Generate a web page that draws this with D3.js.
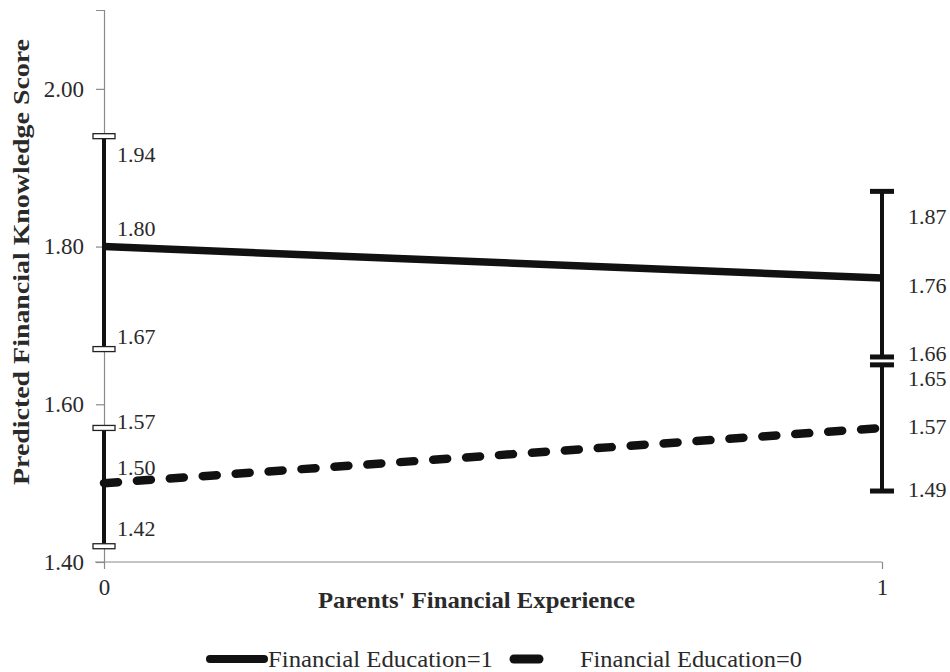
<!DOCTYPE html>
<html>
<head>
<meta charset="utf-8">
<script src="https://cdn.jsdelivr.net/npm/d3@7"></script>
<style>
  html, body { margin: 0; padding: 0; background: #fff; }
  svg { display: block; }
</style>
</head>
<body>
<svg id="chart" width="950" height="672"></svg>
<script>
// ---- data ----
const xCategories = [0, 1];
const seriesNames = ["Financial Education=1", "Financial Education=0"];
const eduOneMean = [1.80, 1.76];
const eduOneLow  = [1.67, 1.66];
const eduOneHigh = [1.94, 1.87];
const eduZeroMean = [1.50, 1.57];
const eduZeroLow  = [1.42, 1.49];
const eduZeroHigh = [1.57, 1.65];
const yTicks = [1.40, 1.60, 1.80, 2.00];
const xTicks = [0, 1];

// label nudges (vertical offsets in px) for value labels
const labelNudge = {
  one:  { mean: [-18, 7],  low: [-13, -4], high: [18, 25] },
  zero: { mean: [-16, -2], low: [-18, -2], high: [-7, 13] }
};

const FONT = "Liberation Serif";
const TXT = "#2a2a2a";
const svg = d3.select("#chart");
const x = d3.scaleLinear().domain([0, 1]).range([104, 882]);
const y = d3.scaleLinear().domain([1.40, 2.10]).range([562, 10]);

// axes
const yAxis = d3.axisLeft(y).tickValues(yTicks).tickFormat(d3.format(".2f")).tickSize(8).tickPadding(12);
const gy = svg.append("g").attr("transform", `translate(${x(0)},0)`).call(yAxis);
gy.select(".domain").attr("stroke", "#8a8a8a").attr("stroke-width", 1.2);
gy.selectAll(".tick line").attr("stroke", "#8a8a8a").attr("stroke-width", 1.2);
gy.selectAll(".tick text").style("font-size", "23px").style("font-family", FONT).style("fill", TXT);

const xAxis = d3.axisBottom(x).tickValues(xTicks).tickFormat(d3.format("d")).tickSize(7).tickPadding(10);
const gx = svg.append("g").attr("transform", `translate(0,${y(1.40)})`).call(xAxis);
gx.select(".domain").attr("stroke", "#8a8a8a").attr("stroke-width", 1.2).attr("d", `M${x(0) - 9},0H${x(1)}`);
gx.selectAll(".tick line").attr("stroke", "#8a8a8a").attr("stroke-width", 1.2);
gx.selectAll(".tick text").style("font-size", "23px").style("font-family", FONT).style("fill", TXT);

// axis titles
svg.append("text")
  .attr("transform", `translate(29,${262}) rotate(-90)`)
  .attr("text-anchor", "middle")
  .style("font-family", FONT).style("font-size", "23px").style("font-weight", "bold").style("fill", TXT)
  .attr("textLength", 446).attr("lengthAdjust", "spacingAndGlyphs")
  .text("Predicted Financial Knowledge Score");

svg.append("text")
  .attr("x", 318).attr("y", 608)
  .style("font-family", FONT).style("font-size", "23px").style("font-weight", "bold").style("fill", TXT)
  .attr("textLength", 317).attr("lengthAdjust", "spacingAndGlyphs")
  .text("Parents' Financial Experience");

// error bars
function errorBars(low, high) {
  const g = svg.append("g");
  xCategories.forEach((c, i) => {
    g.append("line")
      .attr("x1", x(c)).attr("x2", x(c))
      .attr("y1", y(low[i])).attr("y2", y(high[i]))
      .attr("stroke", "#111").attr("stroke-width", 4);
    [low[i], high[i]].forEach(v => {
      if (i === 0) {
        g.append("rect")
          .attr("x", x(c) - 11).attr("y", y(v) - 2.5)
          .attr("width", 22).attr("height", 5)
          .attr("fill", "#fff").attr("stroke", "#222").attr("stroke-width", 1.3);
      } else {
        g.append("rect")
          .attr("x", x(c) - 12).attr("y", y(v) - 2.5)
          .attr("width", 24).attr("height", 5)
          .attr("fill", "#111");
      }
    });
  });
}
errorBars(eduOneLow, eduOneHigh);
errorBars(eduZeroLow, eduZeroHigh);

// lines
const line = d3.line().x((d, i) => x(xCategories[i])).y(d => y(d));
svg.append("path").datum(eduOneMean)
  .attr("d", line).attr("fill", "none")
  .attr("stroke", "#111").attr("stroke-width", 7.5);
svg.append("path").datum(eduZeroMean)
  .attr("d", line).attr("fill", "none")
  .attr("stroke", "#111").attr("stroke-width", 8.5)
  .attr("stroke-linecap", "round")
  .attr("stroke-dasharray", "14,19");

// value labels
function labels(vals, nudges) {
  xCategories.forEach((c, i) => {
    svg.append("text")
      .attr("x", i === 0 ? x(c) + 13 : x(c) + 26)
      .attr("y", y(vals[i]) + nudges[i])
      .attr("dy", "0.35em")
      .style("font-family", FONT).style("font-size", "22px").style("fill", TXT)
      .text(d3.format(".2f")(vals[i]));
  });
}
labels(eduOneMean, labelNudge.one.mean);
labels(eduOneLow, labelNudge.one.low);
labels(eduOneHigh, labelNudge.one.high);
labels(eduZeroMean, labelNudge.zero.mean);
labels(eduZeroLow, labelNudge.zero.low);
labels(eduZeroHigh, labelNudge.zero.high);

// legend
const lg = svg.append("g");
lg.append("line").attr("x1", 210).attr("x2", 264).attr("y1", 659).attr("y2", 659)
  .attr("stroke", "#111").attr("stroke-width", 8).attr("stroke-linecap", "round");
lg.append("text").attr("x", 268).attr("y", 667)
  .style("font-family", FONT).style("font-size", "24px").style("fill", TXT)
  .attr("textLength", 225).attr("lengthAdjust", "spacingAndGlyphs").text(seriesNames[0]);
lg.append("line").attr("x1", 514).attr("x2", 539).attr("y1", 659).attr("y2", 659)
  .attr("stroke", "#111").attr("stroke-width", 9).attr("stroke-linecap", "round");
lg.append("text").attr("x", 580).attr("y", 667)
  .style("font-family", FONT).style("font-size", "24px").style("fill", TXT)
  .attr("textLength", 222).attr("lengthAdjust", "spacingAndGlyphs").text(seriesNames[1]);
</script>
</body>
</html>
